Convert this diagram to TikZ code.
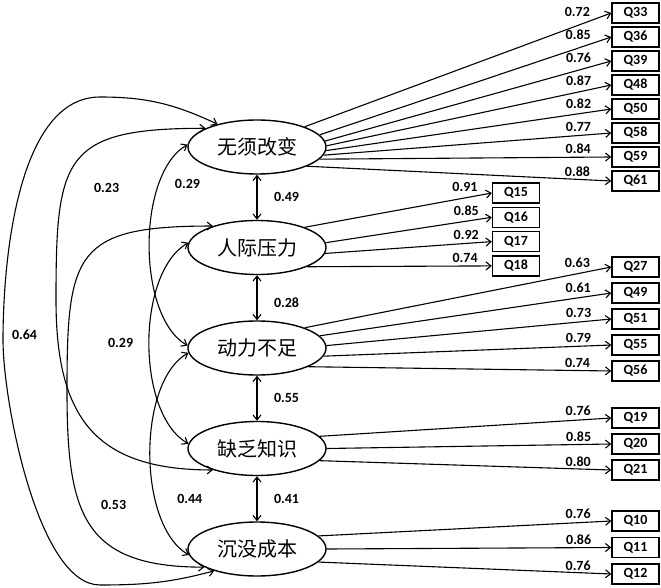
\documentclass[tikz,border=0pt]{standalone}
\usepackage{fontspec}
\setmainfont{Carlito}
\newfontfamily\cjk{Noto Sans CJK SC}
\usetikzlibrary{arrows.meta,shapes.geometric}

\begin{document}
\begin{tikzpicture}[x=1pt,y=1pt,>={Straight Barb[length=5pt,width=8pt]},line width=1.1pt,node distance=24pt,
  factor/.style={ellipse,draw,line width=1.4pt,minimum width=138pt,minimum height=54pt,inner sep=0pt,font=\cjk\fontsize{20}{24}\selectfont},
  item/.style={rectangle,draw,line width=1.4pt,minimum width=47pt,minimum height=20pt,inner sep=0pt,font=\bfseries\fontsize{14}{15}\selectfont},
  coef/.style={font=\bfseries\fontsize{14}{15}\selectfont,inner sep=2.5pt},
  loading/.style={coef,pos=.94,above left}]

\useasboundingbox (0,0) rectangle (661,587);

% factors
\node[factor] (A) at (257,440)                        {无须改变};
\node[factor] (B) [below of=A, node distance=100.5pt] {人际压力};
\node[factor] (C) [below of=B, node distance=100.5pt] {动力不足};
\node[factor] (D) [below of=C, node distance=100.5pt] {缺乏知识};
\node[factor] (E) [below of=D, node distance=100.5pt] {沉没成本};

% items
\node[item] (Q33) at (635.5,574)  {Q33};
\node[item] (Q36) [below of=Q33] {Q36};
\node[item] (Q39) [below of=Q36] {Q39};
\node[item] (Q48) [below of=Q39] {Q48};
\node[item] (Q50) [below of=Q48] {Q50};
\node[item] (Q58) [below of=Q50] {Q58};
\node[item] (Q59) [below of=Q58] {Q59};
\node[item] (Q61) [below of=Q59] {Q61};

\node[item] (Q15) at (516,394) {Q15};
\node[item] (Q16) [below of=Q15, node distance=24.3pt] {Q16};
\node[item] (Q17) [below of=Q16, node distance=24.3pt] {Q17};
\node[item] (Q18) [below of=Q17, node distance=24.3pt] {Q18};

\node[item] (Q27) at (635.5,320) {Q27};
\node[item] (Q49) [below of=Q27, node distance=26pt] {Q49};
\node[item] (Q51) [below of=Q49, node distance=26pt] {Q51};
\node[item] (Q55) [below of=Q51, node distance=26pt] {Q55};
\node[item] (Q56) [below of=Q55, node distance=26pt] {Q56};

\node[item] (Q19) at (635.5,169) {Q19};
\node[item] (Q20) [below of=Q19, node distance=26pt] {Q20};
\node[item] (Q21) [below of=Q20, node distance=26pt] {Q21};

\node[item] (Q10) at (635.5,66) {Q10};
\node[item] (Q11) [below of=Q10, node distance=26.5pt] {Q11};
\node[item] (Q12) [below of=Q11, node distance=26.5pt] {Q12};

% loadings
\path[->]
(A.23)  edge node[loading] {0.72} (Q33.west)
(A.11)  edge node[loading] {0.85} (Q36.west)
(A.5)   edge node[loading] {0.76} (Q39.west)
(A.1)   edge node[loading] {0.87} (Q48.west)
(A.-3)  edge node[loading] {0.82} (Q50.west)
(A.-7)  edge node[loading] {0.77} (Q58.west)
(A.-11) edge node[loading] {0.84} (Q59.west)
(A.-21) edge node[loading] {0.88} (Q61.west)
(B.23)  edge node[loading] {0.91} (Q15.west)
(B.4)   edge node[loading] {0.85} (Q16.west)
(B.-5)  edge node[loading] {0.92} (Q17.west)
(B.-21) edge node[loading] {0.74} (Q18.west)
(C.23)  edge node[loading] {0.63} (Q27.west)
(C.11)  edge node[loading] {0.61} (Q49.west)
(C.2)   edge node[loading] {0.73} (Q51.west)
(C.-7)  edge node[loading] {0.79} (Q55.west)
(C.-20) edge node[loading] {0.74} (Q56.west)
(D.11)  edge node[loading] {0.76} (Q19.west)
(D.0)   edge node[loading] {0.85} (Q20.west)
(D.-11) edge node[loading] {0.80} (Q21.west)
(E.12)  edge node[loading] {0.76} (Q10.west)
(E.0)   edge node[loading] {0.86} (Q11.west)
(E.-12) edge node[loading] {0.76} (Q12.west)
;

% correlations
\path[<->]
(A) edge node[coef,right=14pt] {0.49} (B)
(B) edge node[coef,right=14pt,pos=.62] {0.28} (C)
(C) edge node[coef,right=14pt] {0.55} (D)
(D) edge node[coef,right=14pt] {0.41} (E)
;
\draw[<->] (A.178) to[out=210,in=150,looseness=.75] node[coef,pos=.25,right=13pt] {0.29} (C.178);
\draw[<->] (B.176) to[out=210,in=150,looseness=.77] node[coef,left=13pt] {0.29} (D.176);
\draw[<->] (C.184) to[out=210,in=150,looseness=.75] node[coef,pos=.68,right=19pt] {0.44} (E.185);
\draw[<->] (A.160) to[out=180,in=90,looseness=1.6] node[coef,pos=.65,right=27pt] {0.23} (56,287)
                   to[out=-90,in=180,looseness=1.3] (D.206);
\draw[<->] (B.154) to[out=180,in=90,looseness=1.6] (67,197)
                   to[out=-90,in=180,looseness=1.4] node[coef,pos=.4,right=18pt] {0.53} (E.199);
\draw[<->] (A.150) to[out=155,in=0] (100,490)
                   to[out=180,in=90,looseness=.8] (3,247) node[coef,right=6pt,yshift=5pt] {0.64}
                   to[out=-90,in=180,looseness=.6] (100,2)
                   to[out=0,in=195] (E.207);
\end{tikzpicture}
\end{document}
